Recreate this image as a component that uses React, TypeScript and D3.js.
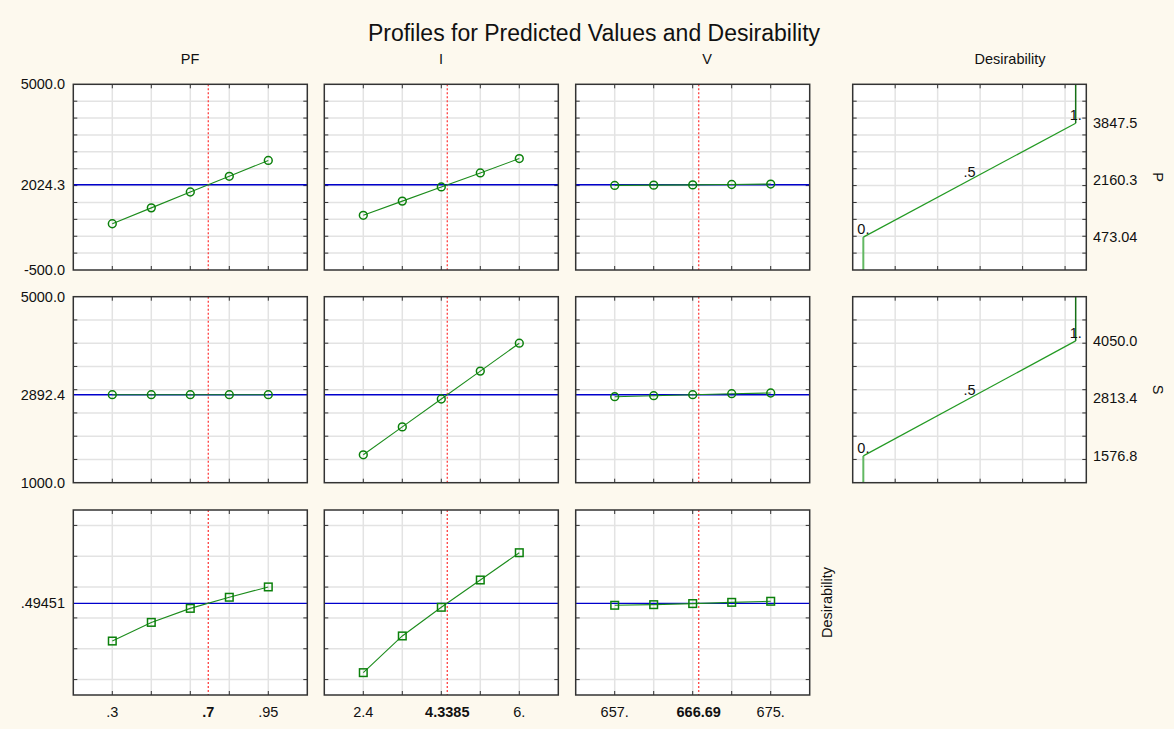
import React from "react";
import * as d3 from "d3";

// ---------- data ----------
const factorNames = ["PF", "I", "V"];
const PF_levels = [0.3, 0.4625, 0.625, 0.7875, 0.95];
const I_levels = [2.4, 3.3, 4.2, 5.1, 6.0];
const V_levels = [657, 661.5, 666, 670.5, 675];
const factorLevels = [PF_levels, I_levels, V_levels];
const currentValues = [0.7, 4.3385, 666.69];
const xTickLabels = [
  [".3", ".7", ".95"],
  ["2.4", "4.3385", "6."],
  ["657.", "666.69", "675."],
];

const responseNames = ["P", "S", "Desirability"];
const P_PF = [870, 1340, 1810, 2275, 2745];
const P_I = [1120, 1540, 1960, 2375, 2800];
const P_V = [2005, 2013, 2021, 2033, 2045];
const S_PF = [2892.4, 2892.4, 2892.4, 2892.4, 2892.4];
const S_I = [1600, 2200, 2800, 3400, 4000];
const S_V = [2849, 2871, 2892, 2914, 2929];
const D_PF = [0.25, 0.371, 0.462, 0.534, 0.601];
const D_I = [0.045, 0.283, 0.469, 0.646, 0.823];
const D_V = [0.482, 0.486, 0.493, 0.501, 0.508];
const responseValues = [
  [P_PF, P_I, P_V],
  [S_PF, S_I, S_V],
  [D_PF, D_I, D_V],
];
const currentResponse = [2024.3, 2892.4, 0.49451];
const yDomains: [number, number][] = [
  [-500, 5000],
  [1000, 5000],
  [-0.1, 1.1],
];
const yGridValues = [
  [0, 500, 1000, 1500, 2000, 2500, 3000, 3500, 4000, 4500],
  [1500, 2000, 2500, 3000, 3500, 4000, 4500],
  [0, 0.2, 0.4, 0.6, 0.8, 1.0],
];
const yTickLabels = [
  ["5000.0", "2024.3", "-500.0"],
  ["5000.0", "2892.4", "1000.0"],
  ["", ".49451", ""],
];

// desirability specs (low, mid, high)
const P_desire = [473.04, 2160.3, 3847.5];
const S_desire = [1576.8, 2813.4, 4050.0];
const desireSpecs = [P_desire, S_desire];
const desireLabels = [
  ["473.04", "2160.3", "3847.5"],
  ["1576.8", "2813.4", "4050.0"],
];
const desireLevels = [0, 0.5, 1];
const desireLevelLabels = ["0.", ".5", "1."];
const desireGrid = [0.15, 0.35, 0.55, 0.75, 0.95];

// ---------- layout ----------
const W = 1174;
const H = 729;
const colX = [73.3, 324.3, 575.7];
const headerX = [190, 441, 707, 1010];
const panelW = 234;
const rowY = [84.3, 296.7, 510];
const rowH = [185.7, 186, 185];
const desX = 852.7;
const desW = 233.6;
const FONT = "'Liberation Sans', Arial, Helvetica, sans-serif";
const GRID = "#e3e3e3";
const BORDER = "#333";
const GREEN = "#1c8c1c";
const FS = 14.5;

function Frame({ x, y, w, h, xs, ys }: { x: number; y: number; w: number; h: number; xs: number[]; ys: number[] }) {
  const t = 4;
  return (
    <g>
      <rect x={x} y={y} width={w} height={h} fill="#fff" />
      {xs.map((px, i) => (
        <line key={"gx" + i} x1={px} x2={px} y1={y} y2={y + h} stroke={GRID} strokeWidth={1.5} />
      ))}
      {ys.map((py, i) => (
        <line key={"gy" + i} x1={x} x2={x + w} y1={py} y2={py} stroke={GRID} strokeWidth={1.5} />
      ))}
      {xs.map((px, i) => (
        <g key={"tx" + i}>
          <line x1={px} x2={px} y1={y} y2={y + t} stroke={BORDER} strokeWidth={1} />
          <line x1={px} x2={px} y1={y + h} y2={y + h - t} stroke={BORDER} strokeWidth={1} />
        </g>
      ))}
      {ys.map((py, i) => (
        <g key={"ty" + i}>
          <line x1={x} x2={x + t} y1={py} y2={py} stroke={BORDER} strokeWidth={1} />
          <line x1={x + w} x2={x + w - t} y1={py} y2={py} stroke={BORDER} strokeWidth={1} />
        </g>
      ))}
    </g>
  );
}

function Border({ x, y, w, h }: { x: number; y: number; w: number; h: number }) {
  return <rect x={x} y={y} width={w} height={h} fill="none" stroke={BORDER} strokeWidth={1.5} />;
}

export default function App() {
  const panels: React.ReactNode[] = [];

  for (let r = 0; r < 3; r++) {
    const y0 = rowY[r];
    const h = rowH[r];
    const yScale = d3.scaleLinear().domain(yDomains[r]).range([y0 + h, y0]);
    const ys = yGridValues[r].map((v) => yScale(v));
    for (let c = 0; c < 3; c++) {
      const x0 = colX[c];
      const lv = factorLevels[c];
      const step = lv[1] - lv[0];
      const xScale = d3.scaleLinear().domain([lv[0] - step, lv[4] + step]).range([x0, x0 + panelW]);
      const xs = lv.map((v) => xScale(v));
      const vals = responseValues[r][c];
      const pts: [number, number][] = lv.map((v, i) => [xScale(v), yScale(vals[i])]);
      const line = d3.line()(pts) || "";
      const cx = xScale(currentValues[c]);
      const cy = yScale(currentResponse[r]);
      panels.push(
        <g key={`p${r}${c}`}>
          <Frame x={x0} y={y0} w={panelW} h={h} xs={xs} ys={ys} />
          <line x1={cx} x2={cx} y1={y0} y2={y0 + h} stroke="#ff4d4d" strokeWidth={1.4} strokeDasharray="2,2" />
          <line x1={x0} x2={x0 + panelW} y1={cy} y2={cy} stroke="#0000cc" strokeWidth={1.4} />
          <path d={line} fill="none" stroke={GREEN} strokeWidth={1.1} />
          {pts.map(([px, py], i) =>
            r < 2 ? (
              <circle key={i} cx={px} cy={py} r={3.9} fill="none" stroke="#0b800b" strokeWidth={1.5} />
            ) : (
              <rect key={i} x={px - 3.8} y={py - 3.8} width={7.6} height={7.6} fill="none" stroke="#0b800b" strokeWidth={1.5} />
            )
          )}
          <Border x={x0} y={y0} w={panelW} h={h} />
          {r === 2 &&
            [lv[0], currentValues[c], lv[4]].map((v, i) => (
              <text
                key={"xl" + i}
                x={xScale(v)}
                y={717}
                textAnchor="middle"
                fontSize={FS}
                fontWeight={i === 1 ? "bold" : "normal"}
                fill="#111"
              >
                {xTickLabels[c][i]}
              </text>
            ))}
        </g>
      );
    }
    // left y labels
    const yl = yTickLabels[r];
    const yVals = [yDomains[r][1], currentResponse[r], yDomains[r][0]];
    yVals.forEach((v, i) => {
      if (!yl[i]) return;
      panels.push(
        <text key={`yl${r}${i}`} x={65} y={yScale(v)} dy="0.35em" textAnchor="end" fontSize={FS} fill="#111">
          {yl[i]}
        </text>
      );
    });

    // desirability panels
    if (r < 2) {
      const dScale = d3.scaleLinear().domain([-0.05, 1.05]).range([desX, desX + desW]);
      const xs = desireGrid.map((v) => dScale(v));
      const spec = desireSpecs[r];
      const xLow = dScale(0);
      const xHigh = dScale(1);
      const yLow = yScale(spec[0]);
      const yHigh = yScale(spec[2]);
      const yMid = yScale(spec[1]);
      panels.push(
        <g key={`d${r}`}>
          <Frame x={desX} y={y0} w={desW} h={h} xs={xs} ys={ys} />
          <line x1={xLow} x2={xLow} y1={y0 + h} y2={yLow} stroke="#62b862" strokeWidth={2} />
          <line x1={xLow} x2={xHigh} y1={yLow} y2={yHigh} stroke="#239a23" strokeWidth={1.2} />
          <line x1={xHigh} x2={xHigh} y1={yHigh} y2={y0} stroke="#157015" strokeWidth={1.5} />
          <Border x={desX} y={y0} w={desW} h={h} />
          <text x={xLow - 6} y={yLow - 3} fontSize={FS} fill="#111">
            {desireLevelLabels[0]}
          </text>
          <text x={dScale(desireLevels[1])} y={yMid - 3} textAnchor="middle" fontSize={FS} fill="#111">
            {desireLevelLabels[1]}
          </text>
          <text x={xHigh - 6} y={yHigh - 3} fontSize={FS} fill="#111">
            {desireLevelLabels[2]}
          </text>
          {spec.map((v, i) => (
            <text key={i} x={1093} y={yScale(v)} dy="0.35em" fontSize={FS} fill="#111">
              {desireLabels[r][i]}
            </text>
          ))}
          <text
            transform={`translate(1158,${y0 + h / 2}) rotate(90)`}
            textAnchor="middle"
            dy="0.35em"
            fontSize={FS}
            fill="#111"
          >
            {responseNames[r]}
          </text>
        </g>
      );
    } else {
      panels.push(
        <text
          key="dlab"
          transform={`translate(827,${y0 + h / 2}) rotate(-90)`}
          textAnchor="middle"
          dy="0.35em"
          fontSize={FS}
          fill="#111"
        >
          {responseNames[2]}
        </text>
      );
    }
  }

  return (
    <svg
      width={W}
      height={H}
      style={{ position: "fixed", left: 0, top: 0, fontFamily: FONT }}
      fontFamily={FONT}
    >
      <rect x={0} y={0} width={W} height={H} fill="#fdf9ee" />
      <text x={594} y={41} textAnchor="middle" fontSize={23} fill="#111">
        Profiles for Predicted Values and Desirability
      </text>
      {factorNames.map((n, c) => (
        <text key={n} x={headerX[c]} y={64} textAnchor="middle" fontSize={FS} fill="#111">
          {n}
        </text>
      ))}
      <text x={headerX[3]} y={64} textAnchor="middle" fontSize={FS} fill="#111">
        Desirability
      </text>
      {panels}
    </svg>
  );
}
